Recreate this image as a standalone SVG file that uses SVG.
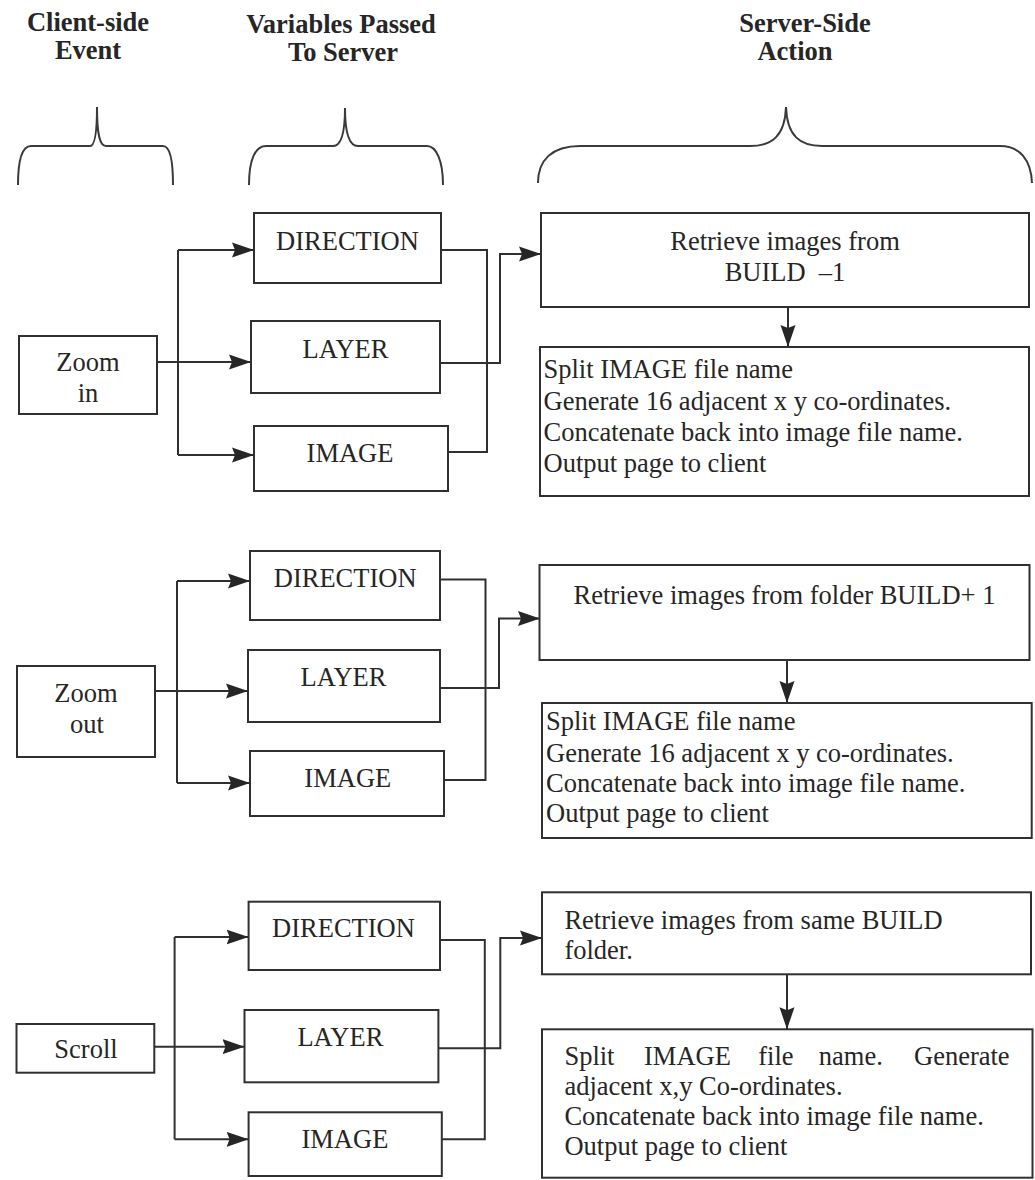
<svg xmlns="http://www.w3.org/2000/svg" width="1035" height="1180" viewBox="0 0 1035 1180">
  <style>
    .box { fill: #ffffff; stroke: #303030; stroke-width: 2; }
    .wire { fill: none; stroke: #303030; stroke-width: 2; }
    .brace { fill: none; stroke: #3a3a3a; stroke-width: 2; }
    .t { font-family: "Liberation Serif", "Times New Roman", serif; font-size: 26.5px; fill: #262626; }
    .c { text-anchor: middle; }
    .h { font-weight: bold; }
    .pre { white-space: pre; }
  </style>
  <defs>
    <marker id="arrow" markerUnits="userSpaceOnUse" markerWidth="24" markerHeight="18" refX="22" refY="8" orient="auto">
      <path d="M0,0.5 L22,8 L0,15.5 L3,8 Z" fill="#262626"/>
    </marker>
  </defs>

  <rect width="1035" height="1180" fill="#ffffff"/>

  <!-- column headings -->
  <g id="headings">
    <text class="t h c" x="88" y="31">Client-side</text>
    <text class="t h c" x="88" y="59">Event</text>
    <text class="t h c" x="341" y="33">Variables Passed</text>
    <text class="t h c" x="343" y="61">To Server</text>
    <text class="t h c" x="805" y="32">Server-Side</text>
    <text class="t h c" x="795" y="60">Action</text>
  </g>

  <!-- curly braces under the headings -->
  <g id="braces">
    <path class="brace" d="M18,185 C18,160 22,146 31,146 L90,146 C94,146 97,136 97,107 C97,136 100,146 106,146 L163,146 C170,146 173,160 173,185"/>
    <path class="brace" d="M249,185 C249,160 255,146 266,146 L333,146 C340,146 345,136 345,108 C345,136 350,146 358,146 L427,146 C436,146 443,160 443,185"/>
    <path class="brace" d="M538,183 C538,160 552,146 580,146 L750,146 C772,146 785,136 786,107 C787,136 800,146 822,146 L1000,146 C1020,146 1031,160 1032,183"/>
  </g>

  <!-- connectors -->
  <g id="connectors">
    <!-- zoom in -->
    <path class="wire" d="M178,250 V455"/>
    <path class="wire" d="M178,250 H254" marker-end="url(#arrow)"/>
    <path class="wire" d="M157,362 H251" marker-end="url(#arrow)"/>
    <path class="wire" d="M178,455 H254" marker-end="url(#arrow)"/>
    <path class="wire" d="M441,250 H487 V452 H441"/>
    <path class="wire" d="M440,363 H500 V254 H541" marker-end="url(#arrow)"/>
    <path class="wire" d="M788,307 V347" marker-end="url(#arrow)"/>

    <!-- zoom out -->
    <path class="wire" d="M177,581 V783"/>
    <path class="wire" d="M177,581 H250" marker-end="url(#arrow)"/>
    <path class="wire" d="M155,691 H248" marker-end="url(#arrow)"/>
    <path class="wire" d="M177,783 H250" marker-end="url(#arrow)"/>
    <path class="wire" d="M440,579.5 H485.5 V780 H440"/>
    <path class="wire" d="M440,688 H499 V618.5 H540" marker-end="url(#arrow)"/>
    <path class="wire" d="M787,660 V703" marker-end="url(#arrow)"/>

    <!-- scroll -->
    <path class="wire" d="M174.6,937 V1139.3"/>
    <path class="wire" d="M174.6,937 H248.6" marker-end="url(#arrow)"/>
    <path class="wire" d="M154.3,1046.7 H244.5" marker-end="url(#arrow)"/>
    <path class="wire" d="M174.6,1139.3 H248.6" marker-end="url(#arrow)"/>
    <path class="wire" d="M440,940 H484.8 V1139.3 H439"/>
    <path class="wire" d="M438.4,1048.3 H500.3 V938 H542" marker-end="url(#arrow)"/>
    <path class="wire" d="M787,974.3 V1029.3" marker-end="url(#arrow)"/>
  </g>

  <!-- zoom in row -->
  <g id="zoom-in">
    <rect class="box" x="19" y="336" width="138" height="78"/>
    <text class="t c" x="88" y="371">Zoom</text>
    <text class="t c" x="88" y="402">in</text>
  </g>
  <g id="zoom-in-direction">
    <rect class="box" x="254" y="213" width="187" height="70"/>
    <text class="t c" x="347.5" y="250">DIRECTION</text>
  </g>
  <g id="zoom-in-layer">
    <rect class="box" x="251" y="321" width="189" height="72"/>
    <text class="t c" x="345.5" y="358">LAYER</text>
  </g>
  <g id="zoom-in-image">
    <rect class="box" x="254" y="426" width="194" height="65"/>
    <text class="t c" x="350" y="462">IMAGE</text>
  </g>
  <g id="zoom-in-retrieve">
    <rect class="box" x="541" y="213" width="488" height="94"/>
    <text class="t c" x="785" y="250">Retrieve images from</text>
    <text class="t c pre" x="785" y="281">BUILD  –1</text>
  </g>
  <g id="zoom-in-split">
    <rect class="box" x="540" y="347" width="489" height="149"/>
    <text class="t" x="543.5" y="378">Split IMAGE file name</text>
    <text class="t" x="543.5" y="410">Generate 16 adjacent x y co-ordinates.</text>
    <text class="t" x="543.5" y="441">Concatenate back into image file name.</text>
    <text class="t" x="543.5" y="472">Output page to client</text>
  </g>

  <!-- zoom out row -->
  <g id="zoom-out">
    <rect class="box" x="17" y="666" width="138" height="91"/>
    <text class="t c" x="86" y="701.5">Zoom</text>
    <text class="t c" x="87" y="732.5">out</text>
  </g>
  <g id="zoom-out-direction">
    <rect class="box" x="250" y="551" width="190" height="69"/>
    <text class="t c" x="345.2" y="586.5">DIRECTION</text>
  </g>
  <g id="zoom-out-layer">
    <rect class="box" x="248" y="650" width="192" height="72"/>
    <text class="t c" x="343.5" y="686">LAYER</text>
  </g>
  <g id="zoom-out-image">
    <rect class="box" x="250" y="751" width="194" height="65"/>
    <text class="t c" x="347.8" y="787">IMAGE</text>
  </g>
  <g id="zoom-out-retrieve">
    <rect class="box" x="539.5" y="565" width="490" height="95"/>
    <text class="t c" x="784.5" y="604">Retrieve images from folder BUILD+ 1</text>
  </g>
  <g id="zoom-out-split">
    <rect class="box" x="542" y="703" width="489.7" height="135"/>
    <text class="t" x="546" y="730">Split IMAGE file name</text>
    <text class="t" x="546" y="761.5">Generate 16 adjacent x y co-ordinates.</text>
    <text class="t" x="546" y="792">Concatenate back into image file name.</text>
    <text class="t" x="546" y="822">Output page to client</text>
  </g>

  <!-- scroll row -->
  <g id="scroll">
    <rect class="box" x="16.5" y="1024" width="137.8" height="48.7"/>
    <text class="t c" x="86" y="1058">Scroll</text>
  </g>
  <g id="scroll-direction">
    <rect class="box" x="248.6" y="901.7" width="191.4" height="68.3"/>
    <text class="t c" x="343.5" y="936.7">DIRECTION</text>
  </g>
  <g id="scroll-layer">
    <rect class="box" x="244.5" y="1010" width="193.9" height="72.3"/>
    <text class="t c" x="340.4" y="1045.7">LAYER</text>
  </g>
  <g id="scroll-image">
    <rect class="box" x="248.6" y="1112.3" width="193.2" height="63.7"/>
    <text class="t c" x="344.9" y="1148">IMAGE</text>
  </g>
  <g id="scroll-retrieve">
    <rect class="box" x="542" y="892.3" width="489" height="82"/>
    <text class="t" x="564.4" y="929">Retrieve images from same BUILD</text>
    <text class="t" x="564.4" y="959">folder.</text>
  </g>
  <g id="scroll-split">
    <rect class="box" x="542" y="1029.3" width="490.5" height="148.4"/>
    <text class="t" y="1065"><tspan x="564.4">Split</tspan><tspan x="644">IMAGE</tspan><tspan x="758.3">file</tspan><tspan x="818.8">name.</tspan><tspan x="914">Generate</tspan></text>
    <text class="t" x="564.4" y="1095">adjacent x,y Co-ordinates.</text>
    <text class="t" x="564.4" y="1125">Concatenate back into image file name.</text>
    <text class="t" x="564.4" y="1155">Output page to client</text>
  </g>
</svg>
